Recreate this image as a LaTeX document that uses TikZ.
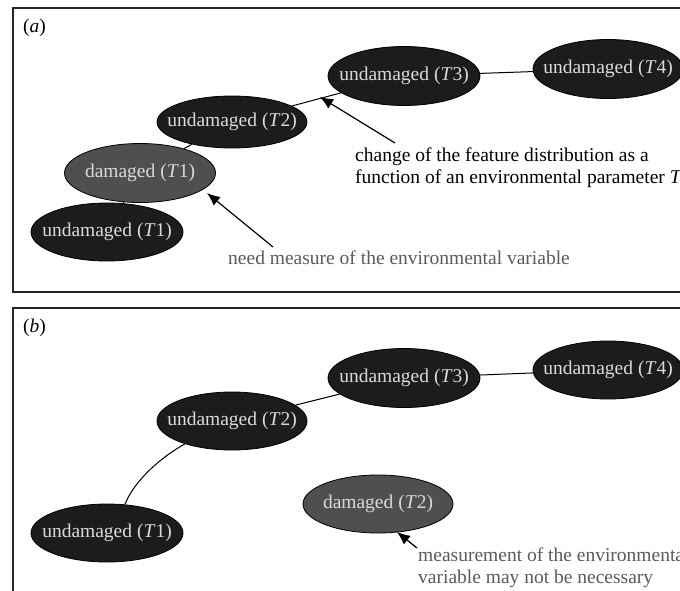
\documentclass[tikz,border=0pt]{standalone}
\usepackage{fontspec}
\setmainfont{Liberation Serif}
\usetikzlibrary{shapes.geometric,arrows.meta,backgrounds}
\definecolor{nodefill}{HTML}{1C1C1C}
\definecolor{dmgfill}{HTML}{4F4F4F}
\definecolor{nodetext}{HTML}{DADADA}
\definecolor{notegray}{HTML}{5A5A5A}
\begin{document}
\begin{tikzpicture}[x=1pt,y=-1pt,
  blob/.style={ellipse, draw=black, line width=0.8pt, fill=nodefill,
    minimum width=152pt, minimum height=58pt, inner sep=0pt},
  dmg/.style={blob, fill=dmgfill},
  lbl/.style={text=nodetext, font=\fontsize{19.5}{22}\selectfont, inner sep=0pt},
  note/.style={font=\fontsize{19.5}{22}\selectfont, align=left, inner sep=0pt, anchor=west},
  panel/.style={font=\fontsize{19.5}{22}\selectfont, inner sep=0pt, anchor=west},
  link/.style={line width=1pt, draw=black},
  pointer/.style={line width=1.2pt, -{Latex[length=13pt,width=11pt]}},
  frame/.style={line width=1.2pt, draw=black!85}
]
\useasboundingbox (0,0) rectangle (680,590);
\clip (0,0) rectangle (680,590);

% frames
\draw[frame] (13,8) rectangle (700,292);
\draw[frame] (13,308) rectangle (700,620);
\node[panel] (pa) at (23,28) {(\textit{a})};
\node[panel] (pb) at (23,328) {(\textit{b})};

% ---------- panel (a)
\node[blob] (u1a) at (107,232) {};
\node[lbl] (t1a) at (u1a) {undamaged (\textit{T}1)};
\node[dmg, minimum width=151pt, minimum height=59pt] (d1a) at (140,173) {};
\node[lbl] (td1a) at (d1a) {damaged (\textit{T}1)};
\node[blob, minimum width=150pt, minimum height=52pt] (u2a) at (232,122) {};
\node[lbl] (t2a) at (u2a) {undamaged (\textit{T}2)};
\node[blob, minimum height=59pt] (u3a) at (404,76) {};
\node[lbl] (t3a) at (u3a) {undamaged (\textit{T}3)};
\node[blob, minimum width=150pt, minimum height=59pt] (u4a) at (608,69) {};
\node[lbl] (t4a) at (u4a) {undamaged (\textit{T}4)};

\begin{scope}[on background layer]
\draw[link] (u1a) -- (d1a);
\draw[link] (d1a) -- (u2a);
\draw[link] (u2a) -- (u3a);
\draw[link] (u3a) -- (u4a);
\end{scope}

\node[note] (n1) at (355,168) {change of the feature distribution as a\\function of an environmental parameter \textit{T}};
\coordinate (p1s) at (395,143);
\coordinate (p1t) at (320,97);
\draw[pointer] (p1s) -- (p1t);

\node[note, text=notegray] (n2) at (228,258) {need measure of the environmental variable};
\coordinate (p2s) at (273,247);
\coordinate (p2t) at (207,193);
\draw[pointer] (p2s) -- (p2t);

% ---------- panel (b)
\node[blob] (u1b) at (107,533) {};
\node[lbl] (t1b) at (u1b) {undamaged (\textit{T}1)};
\node[blob, minimum width=150pt] (u2b) at (232,421) {};
\node[lbl] (t2b) at (u2b) {undamaged (\textit{T}2)};
\node[blob, minimum height=59pt] (u3b) at (404,378) {};
\node[lbl] (t3b) at (u3b) {undamaged (\textit{T}3)};
\node[blob, minimum width=150pt] (u4b) at (608,370) {};
\node[lbl] (t4b) at (u4b) {undamaged (\textit{T}4)};
\node[dmg, minimum width=150pt] (d2b) at (378,504) {};
\node[lbl] (td2b) at (d2b) {damaged (\textit{T}2)};

\begin{scope}[on background layer]
\draw[link] (u1b.58) .. controls +(10,-25) and +(-22,12) .. (u2b.206);
\draw[link] (u2b) -- (u3b);
\draw[link] (u3b) -- (u4b);
\end{scope}

\node[note, text=notegray] (n3) at (418,568) {measurement of the environmental\\variable may not be necessary};
\coordinate (p3s) at (417,548);
\coordinate (p3t) at (397,532);
\draw[pointer] (p3s) -- (p3t);
\end{tikzpicture}
\end{document}
